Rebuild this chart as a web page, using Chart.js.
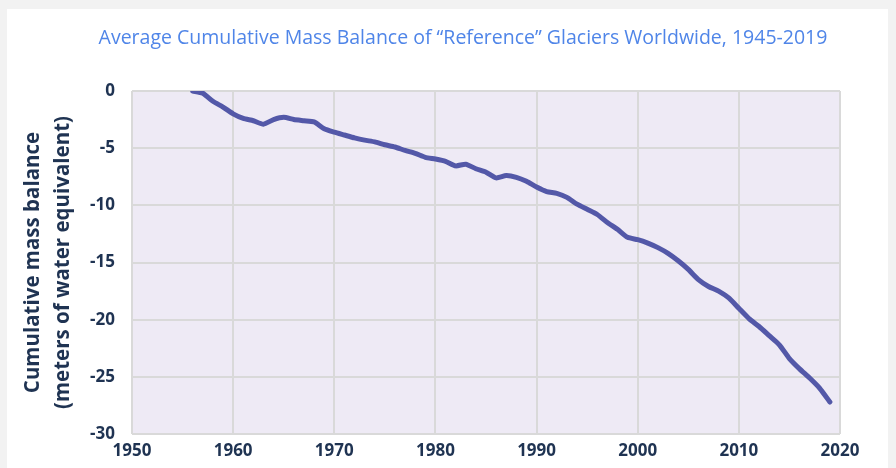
<!DOCTYPE html>
<html>
<head>
<meta charset="utf-8">
<script src="https://cdn.jsdelivr.net/npm/chart.js@4.4.1/dist/chart.umd.min.js"></script>
<style>
  html, body { margin: 0; padding: 0; background: #f2f2f2; }
  #card { position: absolute; left: 7px; top: 9px; width: 881px; height: 459px; background: #fff; }
  #wrap { position: absolute; left: 0; top: 0; width: 896px; height: 468px; }
</style>
</head>
<body>
<div id="card"></div>
<div id="wrap"><canvas id="chart" width="896" height="468"></canvas></div>
<script>
// years and cumulative balance (m water eq.)
const years = [
  1956, 1957, 1958, 1959, 1960, 1961, 1962, 1963, 1964, 1965,
  1966, 1967, 1968, 1969, 1970, 1971, 1972, 1973, 1974, 1975,
  1976, 1977, 1978, 1979, 1980, 1981, 1982, 1983, 1984, 1985,
  1986, 1987, 1988, 1989, 1990, 1991, 1992, 1993, 1994, 1995,
  1996, 1997, 1998, 1999, 2000, 2001, 2002, 2003, 2004, 2005,
  2006, 2007, 2008, 2009, 2010, 2011, 2012, 2013, 2014, 2015,
  2016, 2017, 2018, 2019
];
const balance = [
  0, -0.2, -0.9, -1.4, -2.0, -2.4, -2.6, -2.9, -2.5, -2.3,
  -2.5, -2.6, -2.7, -3.3, -3.6, -3.85, -4.1, -4.3, -4.45, -4.7,
  -4.9, -5.2, -5.45, -5.8, -5.95, -6.15, -6.55, -6.4, -6.8, -7.1,
  -7.6, -7.4, -7.55, -7.9, -8.4, -8.8, -8.95, -9.3, -9.9, -10.35,
  -10.8, -11.5, -12.1, -12.8, -13.0, -13.3, -13.7, -14.2, -14.85, -15.6,
  -16.5, -17.1, -17.5, -18.1, -19.0, -19.9, -20.6, -21.4, -22.2, -23.4,
  -24.3, -25.1, -26.0, -27.2
];
const xTicks = [1950, 1960, 1970, 1980, 1990, 2000, 2010, 2020];
const yTicks = [0, -5, -10, -15, -20, -25, -30];

const chartTitle = "Average Cumulative Mass Balance of \u201cReference\u201d Glaciers Worldwide, 1945-2019";
const yTitle = ["Cumulative mass balance", "(meters of water equivalent)"];

const font = "'Open Sans', sans-serif";
const ink = "#1f3352";
const gridColor = "#d9d9d9";

// lavender fill behind the plot
const plotBg = {
  id: "plotBg",
  beforeDraw(chart) {
    const { ctx, chartArea: a } = chart;
    ctx.save();
    ctx.fillStyle = "#eeeaf5";
    ctx.fillRect(a.left, a.top, a.right - a.left, a.bottom - a.top);
    ctx.restore();
  }
};

// the title in the original sits centred over the whole card, not the padded box
const shiftTitle = {
  id: "shiftTitle",
  afterLayout(chart) {
    const t = chart.titleBlock;
    if (t) { t.left += 43; t.right += 43; }
  }
};

const ctx = document.getElementById("chart").getContext("2d");
new Chart(ctx, {
  type: "line",
  data: {
    datasets: [{
      data: years.map((y, i) => ({ x: y, y: balance[i] })),
      borderColor: "#5358a8",
      borderWidth: 5,
      borderCapStyle: "round",
      borderJoinStyle: "round",
      pointRadius: 0,
      tension: 0.2,
      fill: false
    }]
  },
  options: {
    responsive: false,
    animation: false,
    layout: { padding: { left: 0, right: 56, top: 0, bottom: 0 } },
    plugins: {
      legend: { display: false },
      tooltip: { enabled: false },
      title: {
        display: true,
        text: chartTitle,
        color: "#4f85e8",
        font: { family: font, size: 19.5, weight: "normal", lineHeight: 1.2 },
        padding: { top: 27, bottom: 40.6 }
      }
    },
    scales: {
      x: {
        type: "linear",
        min: 1950,
        max: 2020,
        afterBuildTicks: (s) => { s.ticks = xTicks.map(v => ({ value: v })); },
        afterFit: (s) => { s.height = 34; },
        grid: { color: gridColor, lineWidth: 2, drawTicks: false },
        border: { display: false },
        ticks: {
          color: ink,
          padding: 7,
          maxRotation: 0,
          font: { family: font, size: 17, weight: "bold" },
          callback: (v) => String(v)
        }
      },
      y: {
        min: -30,
        max: 0,
        afterBuildTicks: (s) => { s.ticks = yTicks.map(v => ({ value: v })); },
        afterFit: (s) => { s.width = 132; },
        grid: { color: gridColor, lineWidth: 2, drawTicks: false },
        border: { display: false },
        ticks: {
          color: ink,
          padding: 17,
          font: { family: font, size: 17, weight: "bold" }
        },
        title: {
          display: true,
          text: yTitle,
          color: ink,
          font: { family: font, size: 20.5, weight: "bold", lineHeight: 30 / 20.5 },
          padding: { top: 18, bottom: 0 }
        }
      }
    }
  },
  plugins: [plotBg, shiftTitle]
});
</script>
</body>
</html>
